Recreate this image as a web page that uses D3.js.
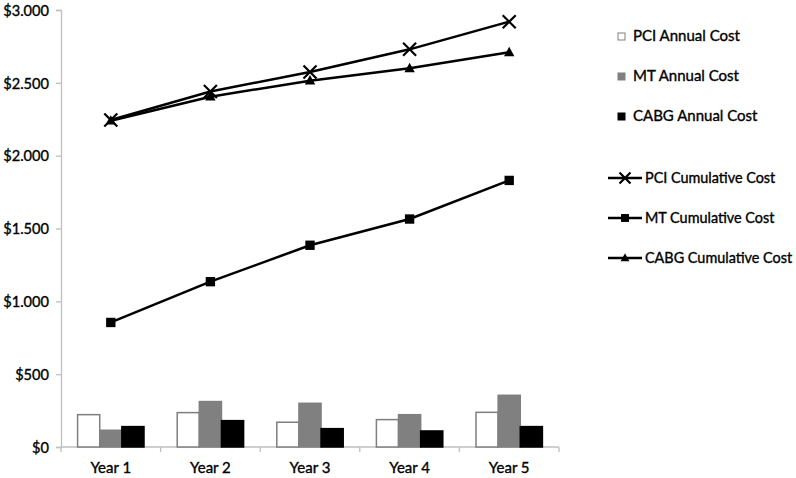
<!DOCTYPE html>
<html>
<head>
<meta charset="utf-8">
<script src="https://cdn.jsdelivr.net/npm/d3@7"></script>
<style>
body { margin: 0; background: #fff; }
text { font-family: Lato, "Open Sans", sans-serif; fill: #000; stroke: #000; stroke-width: 0.35px; }
</style>
</head>
<body>
<div id="chart"></div>
<script>
var years = ["Year 1", "Year 2", "Year 3", "Year 4", "Year 5"]
var yTicks = [0, 500, 1000, 1500, 2000, 2500, 3000]

var pciAnnual = [222, 236, 170, 188, 238]
var mtAnnual = [115, 312, 300, 222, 355]
var cabgAnnual = [140, 181, 126, 110, 140]

var pciCum = [2245, 2440, 2575, 2730, 2920]
var mtCum = [855, 1135, 1385, 1565, 1830]
var cabgCum = [2240, 2405, 2515, 2600, 2710]

var barSeries = [
    { name: "PCI Annual Cost", values: pciAnnual, fill: "#fff", stroke: "#7f7f7f" },
    { name: "MT Annual Cost", values: mtAnnual, fill: "#808080", stroke: "#808080" },
    { name: "CABG Annual Cost", values: cabgAnnual, fill: "#000", stroke: "#000" }
]
var lineSeries = [
    { name: "PCI Cumulative Cost", values: pciCum, marker: "x" },
    { name: "MT Cumulative Cost", values: mtCum, marker: "square" },
    { name: "CABG Cumulative Cost", values: cabgCum, marker: "triangle" }
]

var margin = { top: 10, right: 237, bottom: 31, left: 61 },
    width = 796 - margin.left - margin.right,
    height = 478 - margin.top - margin.bottom

var svg = d3.select("#chart")
    .append("svg")
    .attr("width", 796)
    .attr("height", 478)

var g = svg.append("g")
    .attr("transform", "translate(" + margin.left + "," + margin.top + ")")

var x = d3.scaleBand().domain(years).range([0, width])
var xBar = d3.scaleBand().domain(d3.range(3)).range([0, x.bandwidth()]).paddingOuter(0.75)
var y = d3.scaleLinear().domain([0, 3000]).range([height, 0])

// y axis
var yAxis = d3.axisLeft(y)
    .tickValues(yTicks)
    .tickSize(5)
    .tickPadding(7)
    .tickFormat(function (d) { return "$" + d3.format(",")(d).replace(/,/g, ".") })
var ya = g.append("g").call(yAxis)
ya.selectAll("path, line").attr("stroke", "#bfbfbf").attr("stroke-width", 1.3)
ya.selectAll("text").style("font-size", "14.6px").attr("dy", "0.36em")

// x axis: ticks at category boundaries
g.append("line")
    .attr("x1", 0).attr("x2", width)
    .attr("y1", height).attr("y2", height)
    .attr("stroke", "#bfbfbf").attr("stroke-width", 1.3)
g.selectAll(".xtick")
    .data(years.concat([null]))
    .enter().append("line")
    .attr("x1", function (d, i) { return i * x.step() })
    .attr("x2", function (d, i) { return i * x.step() })
    .attr("y1", height).attr("y2", height + 5)
    .attr("stroke", "#bfbfbf").attr("stroke-width", 1.3)
g.selectAll(".xlabel")
    .data(years)
    .enter().append("text")
    .attr("x", function (d) { return x(d) + x.bandwidth() / 2 })
    .attr("y", height + 26)
    .attr("text-anchor", "middle")
    .style("font-size", "15px")
    .text(function (d) { return d })

// bars
barSeries.forEach(function (s, si) {
    g.selectAll(".bar" + si)
        .data(s.values)
        .enter().append("rect")
        .attr("x", function (d, i) { return x(years[i]) + xBar(si) })
        .attr("width", xBar.bandwidth())
        .attr("y", function (d) { return y(d) })
        .attr("height", function (d) { return height - y(d) })
        .attr("fill", s.fill)
        .attr("stroke", s.stroke)
        .attr("stroke-width", 1.5)
})

function drawMarker(sel, type, cx, cy, s) {
    if (type === "x") {
        sel.append("path")
            .attr("d", "M" + (cx - s) + "," + (cy - s) + "L" + (cx + s) + "," + (cy + s) +
                "M" + (cx - s) + "," + (cy + s) + "L" + (cx + s) + "," + (cy - s))
            .attr("stroke", "#000").attr("stroke-width", 2.2).attr("fill", "none")
    } else if (type === "square") {
        sel.append("rect")
            .attr("x", cx - s * 0.72).attr("y", cy - s * 0.72)
            .attr("width", s * 1.44).attr("height", s * 1.44)
            .attr("fill", "#000")
    } else {
        sel.append("path")
            .attr("d", "M" + cx + "," + (cy - s * 0.85) + "L" + (cx + s * 0.8) + "," + (cy + s * 0.6) +
                "L" + (cx - s * 0.8) + "," + (cy + s * 0.6) + "Z")
            .attr("fill", "#000")
    }
}

var line = d3.line()
    .x(function (d, i) { return x(years[i]) + x.bandwidth() / 2 })
    .y(function (d) { return y(d) })

lineSeries.forEach(function (s) {
    g.append("path")
        .datum(s.values)
        .attr("d", line)
        .attr("fill", "none")
        .attr("stroke", "#000")
        .attr("stroke-width", 2.5)
    s.values.forEach(function (v, i) {
        drawMarker(g, s.marker, x(years[i]) + x.bandwidth() / 2, y(v), 6.5)
    })
})

// legend
var legend = svg.append("g")
barSeries.forEach(function (s, i) {
    var ly = 41 + i * 40
    legend.append("rect")
        .attr("x", 618).attr("y", ly - 8)
        .attr("width", 7).attr("height", 7)
        .attr("fill", s.fill).attr("stroke", s.stroke).attr("stroke-width", 1)
    legend.append("text")
        .attr("x", 633).attr("y", ly)
        .style("font-size", "15px")
        .text(s.name)
})
lineSeries.forEach(function (s, i) {
    var ly = 178 + i * 40
    legend.append("line")
        .attr("x1", 608).attr("x2", 642)
        .attr("y1", ly).attr("y2", ly)
        .attr("stroke", "#000").attr("stroke-width", 2.5)
    drawMarker(legend, s.marker, 625, ly, 5.5)
    legend.append("text")
        .attr("x", 645).attr("y", ly + 5)
        .style("font-size", "14.4px")
        .text(s.name)
})
</script>
</body>
</html>
